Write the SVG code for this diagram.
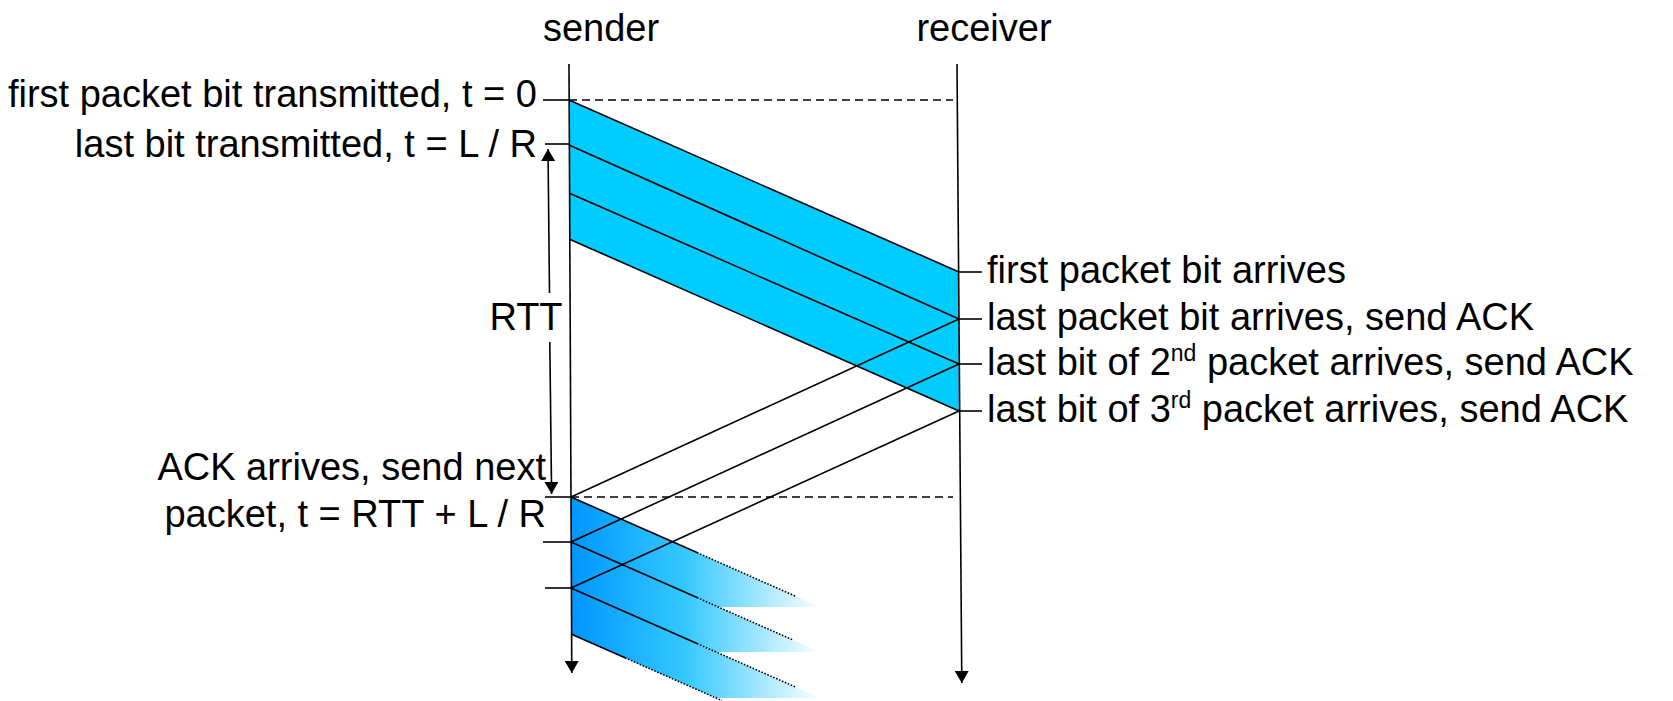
<svg xmlns="http://www.w3.org/2000/svg" width="1673" height="701" viewBox="0 0 1673 701">
  <style>
    text { font-family: "Liberation Sans", Arial, sans-serif; font-size: 38px; fill: #000; }
    .axis { stroke: #000; stroke-width: 1.6; fill: none; }
    .tick { stroke: #000; stroke-width: 1.6; }
    .dash { stroke: #000; stroke-width: 1.5; stroke-dasharray: 8 5; fill: none; }
    .pk { stroke: #000; stroke-width: 1.6; fill: none; }
    .dot { stroke: #000; stroke-width: 1.6; stroke-dasharray: 1.6 1.6; fill: none; }
  </style>
  <defs>
    <marker id="arr" viewBox="0 0 12 14" refX="12" refY="7" markerWidth="12" markerHeight="14" markerUnits="userSpaceOnUse" orient="auto">
      <path d="M0,0 L12,7 L0,14 Z" fill="#000"/>
    </marker>
    <linearGradient id="fade" gradientUnits="userSpaceOnUse" x1="571" y1="0" x2="822" y2="0">
      <stop offset="0" stop-color="#0096FF"/>
      <stop offset="0.45" stop-color="#33C8FF"/>
      <stop offset="1" stop-color="#FFFFFF"/>
    </linearGradient>
  </defs>

  <!-- filled packet shapes -->
  <g id="packets-first">
    <polygon points="569,100 959,272 959,411 569,239" fill="#00CCFF"/>
  </g>
  <g id="packets-next">
    <polygon points="571,497 820,607 716,607 571,542" fill="url(#fade)"/>
    <polygon points="571,542 820,652 716,652 571,588" fill="url(#fade)"/>
    <polygon points="571,588 820,698 716,698 571,634" fill="url(#fade)"/>
  </g>

  <g id="sender">
    <text x="601" y="41" text-anchor="middle">sender</text>
    <line class="axis" x1="569" y1="64" x2="571.8" y2="673" marker-end="url(#arr)"/>
  </g>
  <g id="receiver">
    <text x="984" y="41" text-anchor="middle">receiver</text>
    <line class="axis" x1="957" y1="64" x2="961.8" y2="683" marker-end="url(#arr)"/>
  </g>

  <g id="connectors">
    <!-- time dashed lines -->
    <line class="dash" x1="569" y1="100" x2="953" y2="100"/>
    <line class="dash" x1="571" y1="497" x2="953" y2="497"/>
    <!-- first three packets -->
    <line class="pk" x1="569" y1="100" x2="959" y2="272" stroke-width="2.2"/>
    <line class="pk" x1="569" y1="145" x2="959" y2="319"/>
    <line class="pk" x1="569" y1="193" x2="959" y2="364"/>
    <line class="pk" x1="569" y1="239" x2="959" y2="411"/>
    <!-- ACKs -->
    <line class="pk" x1="959" y1="319" x2="571" y2="497"/>
    <line class="pk" x1="959" y1="364" x2="571" y2="542"/>
    <line class="pk" x1="959" y1="411" x2="571" y2="588"/>
    <!-- next packets -->
    <line class="pk" x1="571" y1="497" x2="697" y2="552.6"/>
    <line class="dot" x1="697" y1="552.6" x2="795" y2="596"/>
    <line class="pk" x1="571" y1="542" x2="697" y2="597.6"/>
    <line class="dot" x1="697" y1="597.6" x2="793" y2="640"/>
    <line class="pk" x1="571" y1="588" x2="697" y2="643.6"/>
    <line class="dot" x1="697" y1="643.6" x2="795" y2="686.8"/>
    <line class="pk" x1="571" y1="634" x2="625" y2="657.8"/>
    <line class="dot" x1="625" y1="657.8" x2="722" y2="700.6"/>
    <!-- RTT arrow -->
    <line class="axis" x1="549.5" y1="293" x2="548" y2="149" marker-end="url(#arr)"/>
    <line class="axis" x1="549.8" y1="342" x2="551.6" y2="494" marker-end="url(#arr)"/>
  </g>

  <g id="sender-labels">
    <line class="tick" x1="543" y1="100" x2="569" y2="100"/>
    <text x="537" y="107" text-anchor="end">first packet bit transmitted, t = 0</text>
    <line class="tick" x1="545" y1="144" x2="569" y2="144"/>
    <text x="537" y="157" text-anchor="end">last bit transmitted, t = L / R</text>
    <text x="526" y="330" text-anchor="middle">RTT</text>
    <line class="tick" x1="545" y1="497" x2="571" y2="497"/>
    <text x="546" y="480" text-anchor="end">ACK arrives, send next</text>
    <text x="546" y="527" text-anchor="end">packet, t = RTT + L / R</text>
    <line class="tick" x1="543" y1="542" x2="571" y2="542"/>
    <line class="tick" x1="545" y1="588" x2="571" y2="588"/>
  </g>

  <g id="receiver-labels">
    <line class="tick" x1="959" y1="272" x2="982" y2="272"/>
    <text x="987" y="283">first packet bit arrives</text>
    <line class="tick" x1="959" y1="319" x2="982" y2="319"/>
    <text x="987" y="330">last packet bit arrives, send ACK</text>
    <line class="tick" x1="959" y1="364" x2="982" y2="364"/>
    <text x="987" y="375">last bit of 2<tspan font-size="23" dy="-14">nd</tspan><tspan dy="14"> packet arrives, send ACK</tspan></text>
    <line class="tick" x1="959" y1="411" x2="982" y2="411"/>
    <text x="987" y="422">last bit of 3<tspan font-size="23" dy="-14">rd</tspan><tspan dy="14"> packet arrives, send ACK</tspan></text>
  </g>
</svg>
